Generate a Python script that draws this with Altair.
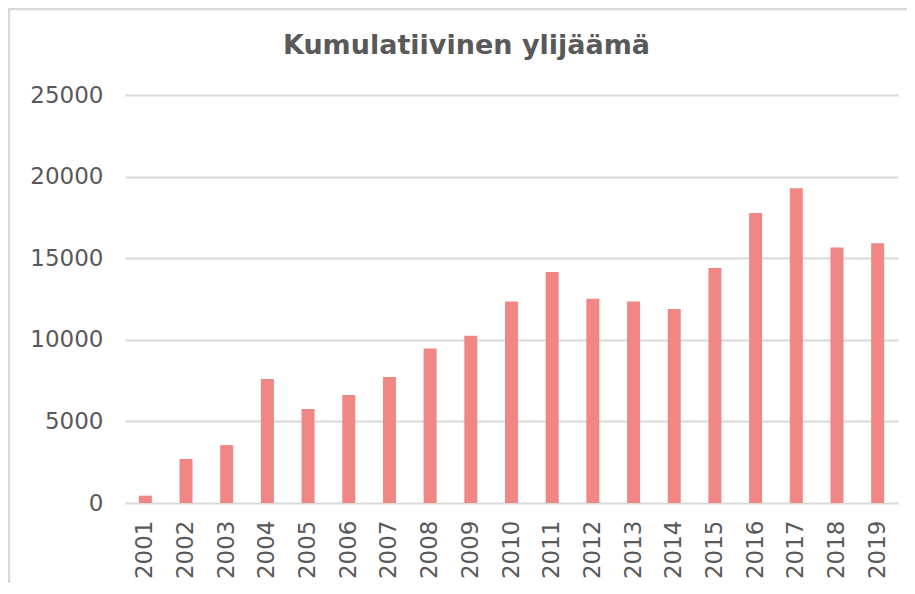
import altair as alt
import pandas as pd

years = [str(y) for y in range(2001, 2020)]
values = [450, 2700, 3550, 7600, 5760, 6620, 7720, 9460, 10250,
          12350, 14150, 12520, 12350, 11890, 14400, 17770, 19280, 15660, 15910]
title_text = "Kumulatiivinen ylijäämä"
y_ticks = [0, 5000, 10000, 15000, 20000, 25000]

df = pd.DataFrame({"year": years, "value": values})
frame_df = pd.DataFrame({"k": [0]})

PL, PT, W, H = 117, 87, 773, 408
TOTAL_W, TOTAL_H = 899, 575
GRID = "#D9D9D9"
TXT = "#595959"

bars = alt.Chart(df).mark_bar(color="#F08784").encode(
    x=alt.X("year:N", sort=years, title=None,
            scale=alt.Scale(paddingInner=0.68, paddingOuter=0.34),
            axis=alt.Axis(labelAngle=270, labelPadding=17, ticks=False,
                          domain=False, labelFontSize=23,
                          labelFont="DejaVu Sans", labelColor=TXT)),
    y=alt.Y("value:Q", title=None,
            scale=alt.Scale(domain=[0, 25000], nice=False),
            axis=alt.Axis(values=y_ticks, format="d", ticks=False, domain=False,
                          labelPadding=22, labelFontSize=23,
                          labelFont="DejaVu Sans", labelColor=TXT,
                          gridColor=GRID, gridWidth=2)),
)

left_line = alt.Chart(frame_df).mark_rule(color=GRID, strokeWidth=2.5).encode(
    x=alt.value(1 - PL), y=alt.value(1 - PT), y2=alt.value(TOTAL_H - PT)
)
top_line = alt.Chart(frame_df).mark_rule(color=GRID, strokeWidth=2.5).encode(
    x=alt.value(-PL), x2=alt.value(TOTAL_W - PL), y=alt.value(1 - PT)
)

chart = alt.layer(left_line, top_line, bars).properties(
    width=W, height=H,
    autosize=alt.AutoSizeParams(type="none"),
    padding={"left": PL, "top": PT, "right": TOTAL_W - PL - W, "bottom": TOTAL_H - PT - H},
    title=alt.TitleParams(title_text, font="DejaVu Sans", fontSize=27,
                          fontWeight="bold", color=TXT, anchor="middle",
                          baseline="alphabetic",
                          frame="group", dx=-45, offset=-73),
).configure_view(stroke=None)

chart.save("out.html", embed_options={"renderer": "svg", "actions": False})
